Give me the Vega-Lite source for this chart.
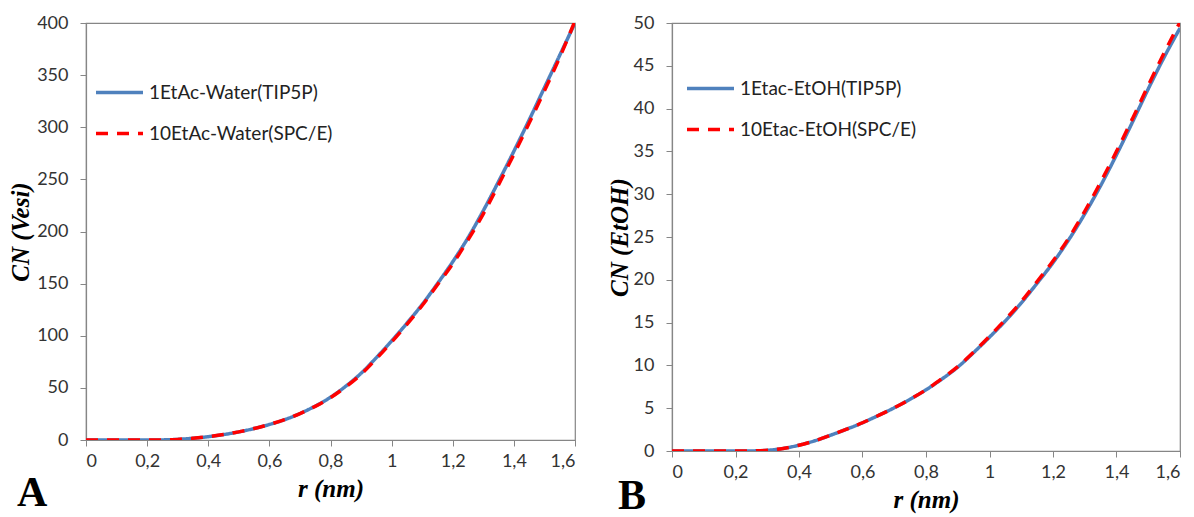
{
  "$schema": "https://vega.github.io/schema/vega-lite/v6.json",
  "background": "white",
  "padding": {"left": 7, "top": 13, "right": 8, "bottom": 0},
  "spacing": 29,
  "config": {
    "view": {"stroke": "#868686", "strokeWidth": 1.2},
    "axis": {"grid": false, "domainColor": "#868686", "domainWidth": 1.2, "tickColor": "#868686", "tickSize": 6, "labelFont": "Lato", "labelFontSize": 18, "labelColor": "#333333", "titleFont": "Liberation Serif", "titleFontSize": 25, "titleFontWeight": "bold", "titleFontStyle": "italic", "titleColor": "#000000"},
    "axisY": {"labelPadding": 12, "titlePadding": 8},
    "axisX": {"labelPadding": 6, "titlePadding": 6},
    "legend": {"orient": "none", "title": null, "symbolType": "stroke", "symbolSize": 2209, "symbolStrokeWidth": 3.5, "labelFont": "Lato", "labelFontSize": 19, "labelColor": "#222222", "labelOffset": 4, "labelLimit": 0, "rowPadding": 5},
    "title": {"font": "Liberation Serif", "fontSize": 42, "fontWeight": "bold", "color": "#000000", "orient": "bottom", "anchor": "start"}
  },
  "datasets": {
    "A": [
      {"r": 0, "cn": 0, "s": "1EtAc-Water(TIP5P)"},
      {"r": 0.05, "cn": 0, "s": "1EtAc-Water(TIP5P)"},
      {"r": 0.1, "cn": 0, "s": "1EtAc-Water(TIP5P)"},
      {"r": 0.15, "cn": 0, "s": "1EtAc-Water(TIP5P)"},
      {"r": 0.2, "cn": 0, "s": "1EtAc-Water(TIP5P)"},
      {"r": 0.25, "cn": 0.1, "s": "1EtAc-Water(TIP5P)"},
      {"r": 0.3, "cn": 0.6, "s": "1EtAc-Water(TIP5P)"},
      {"r": 0.35, "cn": 1.7, "s": "1EtAc-Water(TIP5P)"},
      {"r": 0.4, "cn": 3.2, "s": "1EtAc-Water(TIP5P)"},
      {"r": 0.45, "cn": 5.2, "s": "1EtAc-Water(TIP5P)"},
      {"r": 0.5, "cn": 7.8, "s": "1EtAc-Water(TIP5P)"},
      {"r": 0.55, "cn": 11, "s": "1EtAc-Water(TIP5P)"},
      {"r": 0.6, "cn": 14.9, "s": "1EtAc-Water(TIP5P)"},
      {"r": 0.65, "cn": 19.5, "s": "1EtAc-Water(TIP5P)"},
      {"r": 0.7, "cn": 25.4, "s": "1EtAc-Water(TIP5P)"},
      {"r": 0.75, "cn": 32.5, "s": "1EtAc-Water(TIP5P)"},
      {"r": 0.8, "cn": 41, "s": "1EtAc-Water(TIP5P)"},
      {"r": 0.85, "cn": 51.6, "s": "1EtAc-Water(TIP5P)"},
      {"r": 0.9, "cn": 64, "s": "1EtAc-Water(TIP5P)"},
      {"r": 0.95, "cn": 79, "s": "1EtAc-Water(TIP5P)"},
      {"r": 1.0, "cn": 95, "s": "1EtAc-Water(TIP5P)"},
      {"r": 1.05, "cn": 112, "s": "1EtAc-Water(TIP5P)"},
      {"r": 1.1, "cn": 130, "s": "1EtAc-Water(TIP5P)"},
      {"r": 1.15, "cn": 150, "s": "1EtAc-Water(TIP5P)"},
      {"r": 1.2, "cn": 171, "s": "1EtAc-Water(TIP5P)"},
      {"r": 1.25, "cn": 194, "s": "1EtAc-Water(TIP5P)"},
      {"r": 1.3, "cn": 220, "s": "1EtAc-Water(TIP5P)"},
      {"r": 1.35, "cn": 248, "s": "1EtAc-Water(TIP5P)"},
      {"r": 1.4, "cn": 277, "s": "1EtAc-Water(TIP5P)"},
      {"r": 1.45, "cn": 307, "s": "1EtAc-Water(TIP5P)"},
      {"r": 1.5, "cn": 338, "s": "1EtAc-Water(TIP5P)"},
      {"r": 1.55, "cn": 369, "s": "1EtAc-Water(TIP5P)"},
      {"r": 1.6, "cn": 400, "s": "1EtAc-Water(TIP5P)"},
      {"r": 0, "cn": 0, "s": "10EtAc-Water(SPC/E)"},
      {"r": 0.05, "cn": 0, "s": "10EtAc-Water(SPC/E)"},
      {"r": 0.1, "cn": 0, "s": "10EtAc-Water(SPC/E)"},
      {"r": 0.15, "cn": 0, "s": "10EtAc-Water(SPC/E)"},
      {"r": 0.2, "cn": 0, "s": "10EtAc-Water(SPC/E)"},
      {"r": 0.25, "cn": 0.1, "s": "10EtAc-Water(SPC/E)"},
      {"r": 0.3, "cn": 0.6, "s": "10EtAc-Water(SPC/E)"},
      {"r": 0.35, "cn": 1.7, "s": "10EtAc-Water(SPC/E)"},
      {"r": 0.4, "cn": 3.2, "s": "10EtAc-Water(SPC/E)"},
      {"r": 0.45, "cn": 5.2, "s": "10EtAc-Water(SPC/E)"},
      {"r": 0.5, "cn": 7.8, "s": "10EtAc-Water(SPC/E)"},
      {"r": 0.55, "cn": 11, "s": "10EtAc-Water(SPC/E)"},
      {"r": 0.6, "cn": 14.9, "s": "10EtAc-Water(SPC/E)"},
      {"r": 0.65, "cn": 19.5, "s": "10EtAc-Water(SPC/E)"},
      {"r": 0.7, "cn": 25.3, "s": "10EtAc-Water(SPC/E)"},
      {"r": 0.75, "cn": 32.3, "s": "10EtAc-Water(SPC/E)"},
      {"r": 0.8, "cn": 40.6, "s": "10EtAc-Water(SPC/E)"},
      {"r": 0.85, "cn": 51, "s": "10EtAc-Water(SPC/E)"},
      {"r": 0.9, "cn": 63, "s": "10EtAc-Water(SPC/E)"},
      {"r": 0.95, "cn": 78, "s": "10EtAc-Water(SPC/E)"},
      {"r": 1.0, "cn": 94, "s": "10EtAc-Water(SPC/E)"},
      {"r": 1.05, "cn": 111, "s": "10EtAc-Water(SPC/E)"},
      {"r": 1.1, "cn": 129, "s": "10EtAc-Water(SPC/E)"},
      {"r": 1.15, "cn": 149, "s": "10EtAc-Water(SPC/E)"},
      {"r": 1.2, "cn": 169, "s": "10EtAc-Water(SPC/E)"},
      {"r": 1.25, "cn": 192, "s": "10EtAc-Water(SPC/E)"},
      {"r": 1.3, "cn": 217, "s": "10EtAc-Water(SPC/E)"},
      {"r": 1.35, "cn": 245, "s": "10EtAc-Water(SPC/E)"},
      {"r": 1.4, "cn": 274, "s": "10EtAc-Water(SPC/E)"},
      {"r": 1.45, "cn": 304, "s": "10EtAc-Water(SPC/E)"},
      {"r": 1.5, "cn": 335, "s": "10EtAc-Water(SPC/E)"},
      {"r": 1.55, "cn": 367, "s": "10EtAc-Water(SPC/E)"},
      {"r": 1.6, "cn": 402, "s": "10EtAc-Water(SPC/E)"}
    ],
    "B": [
      {"r": 0, "cn": 0, "s": "1Etac-EtOH(TIP5P)"},
      {"r": 0.05, "cn": 0, "s": "1Etac-EtOH(TIP5P)"},
      {"r": 0.1, "cn": 0, "s": "1Etac-EtOH(TIP5P)"},
      {"r": 0.15, "cn": 0, "s": "1Etac-EtOH(TIP5P)"},
      {"r": 0.2, "cn": 0, "s": "1Etac-EtOH(TIP5P)"},
      {"r": 0.25, "cn": 0.01, "s": "1Etac-EtOH(TIP5P)"},
      {"r": 0.3, "cn": 0.08, "s": "1Etac-EtOH(TIP5P)"},
      {"r": 0.35, "cn": 0.3, "s": "1Etac-EtOH(TIP5P)"},
      {"r": 0.4, "cn": 0.68, "s": "1Etac-EtOH(TIP5P)"},
      {"r": 0.45, "cn": 1.2, "s": "1Etac-EtOH(TIP5P)"},
      {"r": 0.5, "cn": 1.85, "s": "1Etac-EtOH(TIP5P)"},
      {"r": 0.55, "cn": 2.55, "s": "1Etac-EtOH(TIP5P)"},
      {"r": 0.6, "cn": 3.3, "s": "1Etac-EtOH(TIP5P)"},
      {"r": 0.65, "cn": 4.15, "s": "1Etac-EtOH(TIP5P)"},
      {"r": 0.7, "cn": 5.05, "s": "1Etac-EtOH(TIP5P)"},
      {"r": 0.75, "cn": 6.05, "s": "1Etac-EtOH(TIP5P)"},
      {"r": 0.8, "cn": 7.15, "s": "1Etac-EtOH(TIP5P)"},
      {"r": 0.85, "cn": 8.4, "s": "1Etac-EtOH(TIP5P)"},
      {"r": 0.9, "cn": 9.8, "s": "1Etac-EtOH(TIP5P)"},
      {"r": 0.95, "cn": 11.5, "s": "1Etac-EtOH(TIP5P)"},
      {"r": 1.0, "cn": 13.3, "s": "1Etac-EtOH(TIP5P)"},
      {"r": 1.05, "cn": 15.2, "s": "1Etac-EtOH(TIP5P)"},
      {"r": 1.1, "cn": 17.3, "s": "1Etac-EtOH(TIP5P)"},
      {"r": 1.15, "cn": 19.6, "s": "1Etac-EtOH(TIP5P)"},
      {"r": 1.2, "cn": 22, "s": "1Etac-EtOH(TIP5P)"},
      {"r": 1.25, "cn": 24.7, "s": "1Etac-EtOH(TIP5P)"},
      {"r": 1.3, "cn": 27.7, "s": "1Etac-EtOH(TIP5P)"},
      {"r": 1.35, "cn": 31, "s": "1Etac-EtOH(TIP5P)"},
      {"r": 1.4, "cn": 34.6, "s": "1Etac-EtOH(TIP5P)"},
      {"r": 1.45, "cn": 38.4, "s": "1Etac-EtOH(TIP5P)"},
      {"r": 1.5, "cn": 42.3, "s": "1Etac-EtOH(TIP5P)"},
      {"r": 1.55, "cn": 46, "s": "1Etac-EtOH(TIP5P)"},
      {"r": 1.6, "cn": 49.4, "s": "1Etac-EtOH(TIP5P)"},
      {"r": 0, "cn": 0, "s": "10Etac-EtOH(SPC/E)"},
      {"r": 0.05, "cn": 0, "s": "10Etac-EtOH(SPC/E)"},
      {"r": 0.1, "cn": 0, "s": "10Etac-EtOH(SPC/E)"},
      {"r": 0.15, "cn": 0, "s": "10Etac-EtOH(SPC/E)"},
      {"r": 0.2, "cn": 0, "s": "10Etac-EtOH(SPC/E)"},
      {"r": 0.25, "cn": 0.01, "s": "10Etac-EtOH(SPC/E)"},
      {"r": 0.3, "cn": 0.08, "s": "10Etac-EtOH(SPC/E)"},
      {"r": 0.35, "cn": 0.3, "s": "10Etac-EtOH(SPC/E)"},
      {"r": 0.4, "cn": 0.68, "s": "10Etac-EtOH(SPC/E)"},
      {"r": 0.45, "cn": 1.2, "s": "10Etac-EtOH(SPC/E)"},
      {"r": 0.5, "cn": 1.85, "s": "10Etac-EtOH(SPC/E)"},
      {"r": 0.55, "cn": 2.55, "s": "10Etac-EtOH(SPC/E)"},
      {"r": 0.6, "cn": 3.3, "s": "10Etac-EtOH(SPC/E)"},
      {"r": 0.65, "cn": 4.15, "s": "10Etac-EtOH(SPC/E)"},
      {"r": 0.7, "cn": 5.05, "s": "10Etac-EtOH(SPC/E)"},
      {"r": 0.75, "cn": 6.05, "s": "10Etac-EtOH(SPC/E)"},
      {"r": 0.8, "cn": 7.15, "s": "10Etac-EtOH(SPC/E)"},
      {"r": 0.85, "cn": 8.45, "s": "10Etac-EtOH(SPC/E)"},
      {"r": 0.9, "cn": 9.85, "s": "10Etac-EtOH(SPC/E)"},
      {"r": 0.95, "cn": 11.55, "s": "10Etac-EtOH(SPC/E)"},
      {"r": 1.0, "cn": 13.4, "s": "10Etac-EtOH(SPC/E)"},
      {"r": 1.05, "cn": 15.35, "s": "10Etac-EtOH(SPC/E)"},
      {"r": 1.1, "cn": 17.45, "s": "10Etac-EtOH(SPC/E)"},
      {"r": 1.15, "cn": 19.8, "s": "10Etac-EtOH(SPC/E)"},
      {"r": 1.2, "cn": 22.2, "s": "10Etac-EtOH(SPC/E)"},
      {"r": 1.25, "cn": 24.9, "s": "10Etac-EtOH(SPC/E)"},
      {"r": 1.3, "cn": 28, "s": "10Etac-EtOH(SPC/E)"},
      {"r": 1.35, "cn": 31.4, "s": "10Etac-EtOH(SPC/E)"},
      {"r": 1.4, "cn": 35, "s": "10Etac-EtOH(SPC/E)"},
      {"r": 1.45, "cn": 38.8, "s": "10Etac-EtOH(SPC/E)"},
      {"r": 1.5, "cn": 42.7, "s": "10Etac-EtOH(SPC/E)"},
      {"r": 1.55, "cn": 46.5, "s": "10Etac-EtOH(SPC/E)"},
      {"r": 1.6, "cn": 50.1, "s": "10Etac-EtOH(SPC/E)"}
    ]
  },
  "resolve": {"scale": {"color": "independent", "strokeDash": "independent"}, "legend": {"color": "independent", "strokeDash": "independent"}},
  "hconcat": [
    {
      "width": 489,
      "height": 417,
      "title": {"text": "A", "dx": 9, "offset": -28},
      "data": {"name": "A"},
      "mark": {"type": "line", "strokeWidth": 3.5, "interpolate": "monotone", "clip": true},
      "encoding": {
        "x": {"field": "r", "type": "quantitative", "scale": {"domain": [0, 1.6], "nice": false}, "axis": {"title": "r (nm)", "values": [0, 0.2, 0.4, 0.6, 0.8, 1, 1.2, 1.4, 1.6], "labelExpr": "replace(format(datum.value, '.1~f'), '.', ',')"}},
        "y": {"field": "cn", "type": "quantitative", "scale": {"domain": [0, 400], "nice": false}, "axis": {"title": "CN (Vesi)", "titleX": -53, "values": [0, 50, 100, 150, 200, 250, 300, 350, 400]}},
        "color": {"field": "s", "type": "nominal", "sort": ["1EtAc-Water(TIP5P)", "10EtAc-Water(SPC/E)"], "scale": {"domain": ["1EtAc-Water(TIP5P)", "10EtAc-Water(SPC/E)"], "range": ["#4F81BD", "#FF0000"]}, "legend": {"legendX": 8, "legendY": 44}},
        "strokeDash": {"field": "s", "type": "nominal", "sort": ["1EtAc-Water(TIP5P)", "10EtAc-Water(SPC/E)"], "scale": {"domain": ["1EtAc-Water(TIP5P)", "10EtAc-Water(SPC/E)"], "range": [[1, 0], [12, 9]]}, "legend": {"legendX": 8, "legendY": 44}}
      }
    },
    {
      "width": 508,
      "height": 428,
      "title": {"text": "B", "dx": 11, "offset": -36},
      "data": {"name": "B"},
      "mark": {"type": "line", "strokeWidth": 3.5, "interpolate": "monotone", "clip": true},
      "encoding": {
        "x": {"field": "r", "type": "quantitative", "scale": {"domain": [0, 1.6], "nice": false}, "axis": {"title": "r (nm)", "values": [0, 0.2, 0.4, 0.6, 0.8, 1, 1.2, 1.4, 1.6], "labelExpr": "replace(format(datum.value, '.1~f'), '.', ',')"}},
        "y": {"field": "cn", "type": "quantitative", "scale": {"domain": [0, 50], "nice": false}, "axis": {"title": "CN (EtOH)", "titleX": -40, "values": [0, 5, 10, 15, 20, 25, 30, 35, 40, 45, 50]}},
        "color": {"field": "s", "type": "nominal", "sort": ["1Etac-EtOH(TIP5P)", "10Etac-EtOH(SPC/E)"], "scale": {"domain": ["1Etac-EtOH(TIP5P)", "10Etac-EtOH(SPC/E)"], "range": ["#4F81BD", "#FF0000"]}, "legend": {"legendX": 13, "legendY": 40}},
        "strokeDash": {"field": "s", "type": "nominal", "sort": ["1Etac-EtOH(TIP5P)", "10Etac-EtOH(SPC/E)"], "scale": {"domain": ["1Etac-EtOH(TIP5P)", "10Etac-EtOH(SPC/E)"], "range": [[1, 0], [12, 9]]}, "legend": {"legendX": 13, "legendY": 40}}
      }
    }
  ]
}
